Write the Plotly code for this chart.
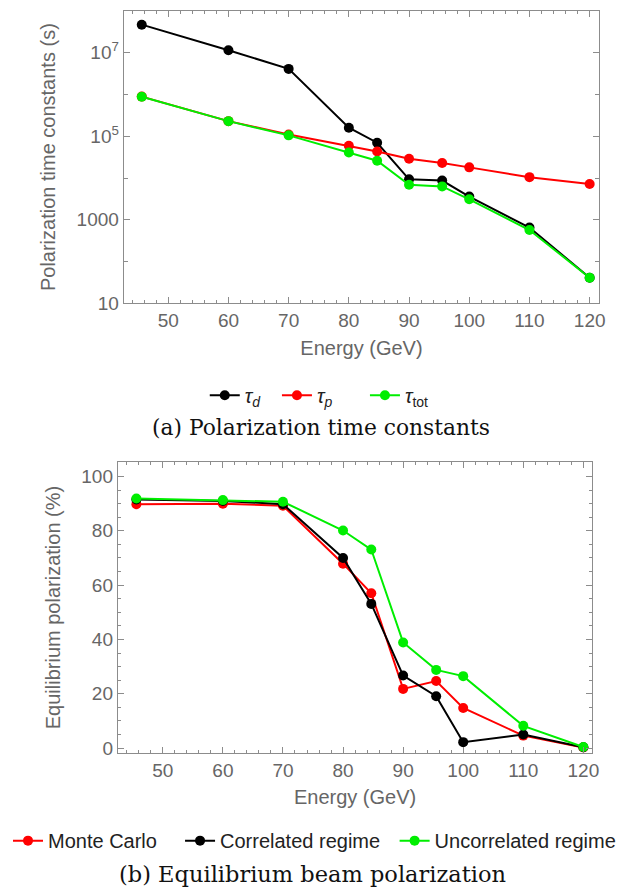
import plotly.graph_objects as go

# ---------------- data ----------------
energy = [45.6, 60, 70, 80, 84.7, 90, 95.5, 100, 110, 120]

tau_d = [4.7e7, 1.15e7, 4.1e6, 1.6e5, 7.0e4, 9.3e3, 8.7e3, 3.6e3, 650, 41]
tau_p = [8.9e5, 2.3e5, 1.1e5, 5.9e4, 4.3e4, 2.9e4, 2.3e4, 1.8e4, 1.05e4, 7.2e3]
tau_tot = [8.8e5, 2.3e5, 1.05e5, 4.1e4, 2.6e4, 6.9e3, 6.3e3, 3.1e3, 570, 41]

pol_mc = [89.8, 90.0, 89.2, 67.9, 57.0, 21.8, 24.7, 14.8, 4.6, 0.2]
pol_corr = [91.5, 91.0, 89.8, 70.0, 53.1, 26.7, 19.1, 2.2, 5.0, 0.3]
pol_uncorr = [91.9, 91.3, 90.7, 80.1, 73.1, 38.9, 28.8, 26.5, 8.2, 0.4]

x_ticks = [50, 60, 70, 80, 90, 100, 110, 120]
log_major_vals = [10, 1e3, 1e5, 1e7]
log_major_text = ["10", "1000", "10<sup>5</sup>", "10<sup>7</sup>"]
log_minor_vals = [100, 1e4, 1e6]
pol_ticks = [0, 20, 40, 60, 80, 100]

# ---------------- style ----------------
W, H = 624, 895
SANS = "Liberation Sans"
SERIF = "DejaVu Serif"
GRAY = "#666666"
FRAME = "#8c8c8c"
BLACK, RED, GREEN = "#000000", "#ff0000", "#00ee00"

def px_x(p):
    return p / W

def px_y(p):
    return 1 - p / H

fig = go.Figure()

def add(x, y, color, name, xa, ya, legend):
    fig.add_trace(go.Scatter(
        x=x, y=y, name=name, mode="lines+markers",
        line=dict(color=color, width=2),
        marker=dict(color=color, size=10),
        xaxis=xa, yaxis=ya, legend=legend,
    ))

# top panel
add(energy, tau_d, BLACK, "<i>τ</i><sub><i>d</i></sub>", "x", "y", "legend")
add(energy, tau_p, RED, "<i>τ</i><sub><i>p</i></sub>", "x", "y", "legend3")
add(energy, tau_tot, GREEN, "<i>τ</i><sub>tot</sub>", "x", "y", "legend4")

# bottom panel
add(energy, pol_mc, RED, "Monte Carlo", "x2", "y2", "legend2")
add(energy, pol_corr, BLACK, "Correlated regime", "x2", "y2", "legend5")
add(energy, pol_uncorr, GREEN, "Uncorrelated regime", "x2", "y2", "legend6")

axis_common = dict(
    showline=True, linecolor=FRAME, linewidth=1, mirror="ticks",
    ticks="inside", ticklen=6, tickcolor=FRAME, tickwidth=1,
    showgrid=False, zeroline=False,
    tickfont=dict(family=SANS, size=19, color=GRAY),
)

xminor = dict(ticks="inside", ticklen=3, tickcolor=FRAME, dtick=2, showgrid=False)
title_font = dict(family=SANS, size=20, color=GRAY)

def leg(x_px, y_px):
    return dict(
        orientation="h", x=x_px / W, xanchor="left",
        y=px_y(y_px), yanchor="middle",
        font=dict(family=SANS, size=20, color="#222222"),
        bgcolor="rgba(0,0,0,0)",
    )

fig.update_layout(
    width=W, height=H,
    margin=dict(l=0, r=0, t=0, b=0),
    paper_bgcolor="white", plot_bgcolor="white",
    font=dict(family=SANS, size=19, color=GRAY),
    xaxis=dict(
        **axis_common,
        domain=[px_x(117), px_x(598)], anchor="y",
        range=[42.6, 121.6], tickmode="array", tickvals=x_ticks,
        minor=xminor,
        title=dict(text="Energy (GeV)", standoff=10, font=title_font),
    ),
    yaxis=dict(
        **axis_common,
        domain=[px_y(299), px_y(3)], anchor="x",
        type="log", range=[1, 8],
        tickmode="array", tickvals=log_major_vals, ticktext=log_major_text,
        minor=dict(ticks="inside", ticklen=4, tickcolor=FRAME,
                   tickmode="array", tickvals=log_minor_vals, showgrid=False),
        title=dict(text="Polarization time constants (s)", standoff=15, font=title_font),
    ),
    xaxis2=dict(
        **axis_common,
        domain=[px_x(111), px_x(591)], anchor="y2",
        range=[42.5, 121.5], tickmode="array", tickvals=x_ticks,
        minor=xminor,
        title=dict(text="Energy (GeV)", standoff=10, font=title_font),
    ),
    yaxis2=dict(
        **axis_common,
        domain=[px_y(754), px_y(460)], anchor="x2",
        range=[-1.7, 105.2], tickmode="array", tickvals=pol_ticks,
        minor=dict(ticks="inside", ticklen=3, tickcolor=FRAME, dtick=5, showgrid=False),
        title=dict(text="Equilibrium polarization (%)", standoff=15, font=title_font),
    ),
    legend=leg(199, 392),
    legend3=leg(272, 392),
    legend4=leg(361, 392),
    legend2=leg(0, 843),
    legend5=leg(174, 843),
    legend6=leg(391, 843),
    showlegend=True,
    annotations=[
        dict(text="(a) Polarization time constants", x=317 / W, y=px_y(425),
             xref="paper", yref="paper", showarrow=False,
             xanchor="center", yanchor="middle",
             font=dict(family=SERIF, size=21.8, color="#111111")),
        dict(text="(b) Equilibrium beam polarization", x=308 / W, y=px_y(877),
             xref="paper", yref="paper", showarrow=False,
             xanchor="center", yanchor="middle",
             font=dict(family=SERIF, size=22.5, color="#111111")),
    ],
)

fig.write_html("out.html")
